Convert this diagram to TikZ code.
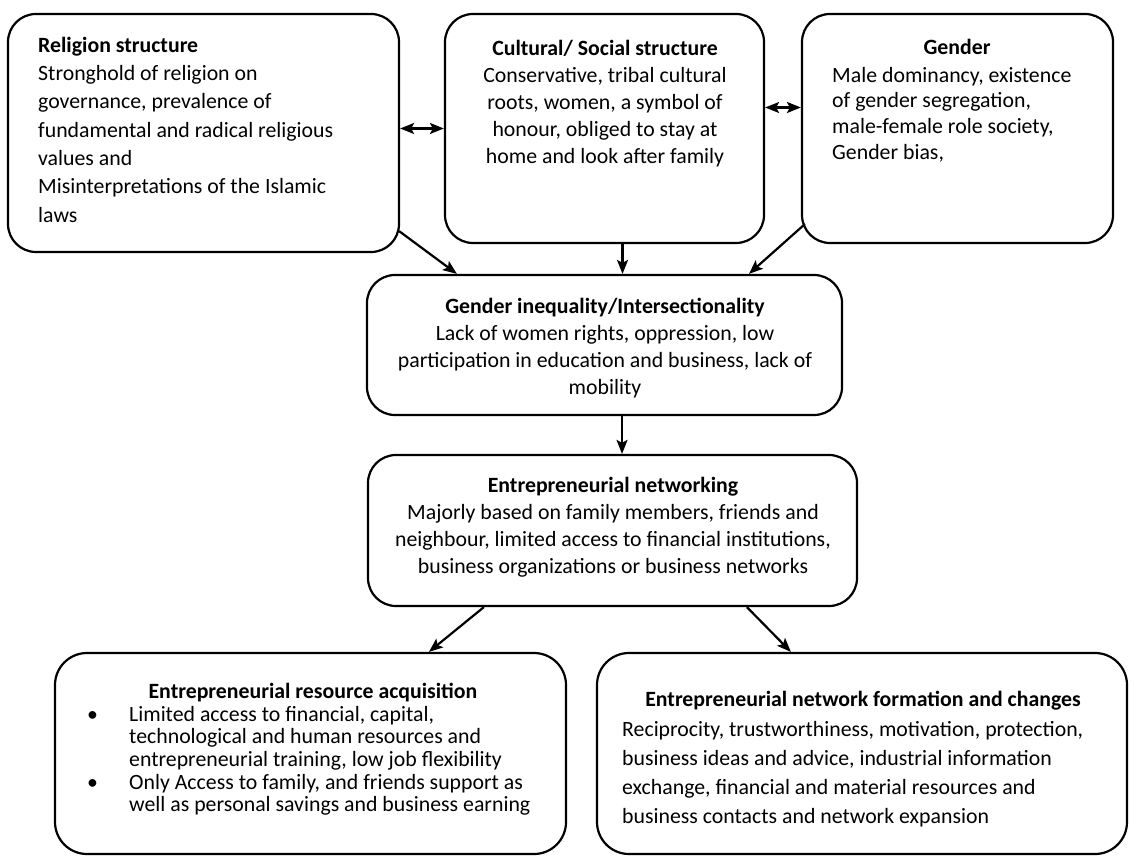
\documentclass[tikz,border=0pt]{standalone}
\usepackage{fontspec}
\setmainfont{Carlito}
\usetikzlibrary{arrows.meta,calc}
\begin{document}
\begin{tikzpicture}[x=1pt,y=-1pt,
  box/.style={draw, line width=2.2pt, rounded corners=28pt, inner sep=0pt},
  tip/.tip={Stealth[length=14pt,width=11pt,inset=3pt]},
  conn/.style={line width=2.2pt, -tip},
  bothway/.style={line width=2.2pt, tip-tip},
  txt/.style={inner sep=0pt, font=\fontsize{21.8}{27}\selectfont},
]
\useasboundingbox (0,0) rectangle (1134,858);

% frames
\node[box, minimum width=391pt, minimum height=238pt] (rel)  at (203.5,133) {};
\node[box, minimum width=319pt, minimum height=229pt] (cult) at (604.5,128.5) {};
\node[box, minimum width=311pt, minimum height=229pt] (gen)  at (957.5,128.5) {};
\node[box, minimum width=475pt, minimum height=140pt] (ineq) at (604.5,345) {};
\node[box, minimum width=489pt, minimum height=151pt] (net)  at (612.5,530.5) {};
\node[box, rounded corners=32pt, minimum width=511pt, minimum height=201pt] (res) at (310.5,753.5) {};
\node[box, rounded corners=32pt, minimum width=530pt, minimum height=201pt] (form) at (862,753.5) {};

% texts
\node[txt, font=\fontsize{21.8}{28.3}\selectfont, align=left, anchor=north west] (relT) at (38,32.2)
  {\strut\textbf{Religion structure}\\Stronghold of religion on\\governance, prevalence of\\fundamental and radical religious\\values and\\Misinterpretations of the Islamic\\laws};
\node[txt, align=center, anchor=north] (cultT) at (605,36.1)
  {\strut\textbf{Cultural/ Social structure}\\Conservative, tribal cultural\\roots, women, a symbol of\\honour, obliged to stay at\\home and look after family};
\node[txt, anchor=base] (genT) at (957,55) {\textbf{Gender}};
\node[txt, font=\fontsize{21.8}{25.7}\selectfont, align=left, anchor=north west] (genB) at (832,64)
  {\strut Male dominancy, existence\\of gender segregation,\\male-female role society,\\Gender bias,};
\node[txt, align=center, anchor=north] (ineqT) at (605,294.1)
  {\strut\textbf{Gender inequality/Intersectionality}\\Lack of women rights, oppression, low\\participation in education and business, lack of\\mobility};
\node[txt, align=center, anchor=north] (netT) at (613,473.1)
  {\strut\textbf{Entrepreneurial networking}\\Majorly based on family members, friends and\\neighbour, limited access to financial institutions,\\business organizations or business networks};
\node[txt, anchor=base] (resT) at (313,698) {\textbf{Entrepreneurial resource acquisition}};
\node[txt, font=\fontsize{21.8}{22.6}\selectfont, align=left, anchor=north west] (resB) at (87,705.2)
  {\strut\makebox[42pt][l]{\textbullet}Limited access to financial, capital,\\
   \hspace*{42pt}technological and human resources and\\
   \hspace*{42pt}entrepreneurial training, low job flexibility\\
   \makebox[42pt][l]{\textbullet}Only Access to family, and friends support as\\
   \hspace*{42pt}well as personal savings and business earning};
\node[txt, anchor=base] (formT) at (863,706) {\textbf{Entrepreneurial network formation and changes}};
\node[txt, font=\fontsize{21.8}{29}\selectfont, align=left, anchor=north west] (formB) at (622,715.7)
  {\strut Reciprocity, trustworthiness, motivation, protection,\\business ideas and advice, industrial information\\exchange, financial and material resources and\\business contacts and network expansion};

% connectors
\draw[bothway] (rel.east |- cult.west) -- (cult.west);
\draw[bothway] ($(cult.east)+(0,-21)$) -- ($(gen.west)+(0,-21)$);
\draw[conn] ($(rel.south east)+(-1,-22)$) -- ($(ineq.north west)+(91,0)$);
\draw[conn] ($(cult.south)+(18,0)$) -- ($(ineq.north)+(18,0)$);
\draw[conn] ($(gen.south west)+(4,-20)$) -- ($(ineq.north west)+(383,0)$);
\draw[conn] ($(ineq.south)+(17.5,0)$) -- ($(net.north)+(9.5,0)$);
\draw[conn] ($(net.south west)+(117,0)$) -- ($(res.north west)+(375,0)$);
\draw[conn] ($(net.south west)+(380,0)$) -- ($(form.north west)+(195,0)$);
\end{tikzpicture}
\end{document}
